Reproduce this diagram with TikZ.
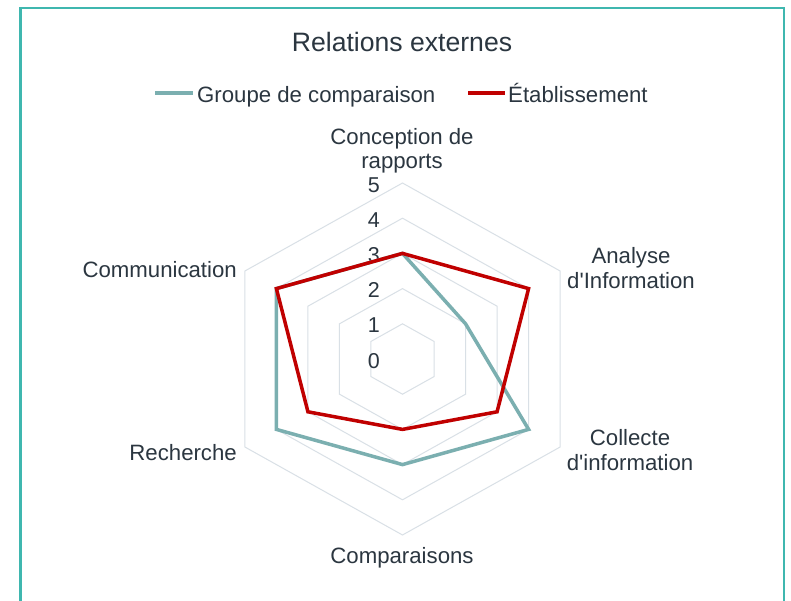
\documentclass[tikz,border=0pt]{standalone}
\usepackage{fontspec}
\setmainfont{Liberation Sans}
\definecolor{txtc}{HTML}{2B3640}
\definecolor{gridc}{HTML}{D9E0E6}
\definecolor{grpc}{HTML}{7BAFB0}
\definecolor{etabc}{HTML}{C00000}
\definecolor{framec}{HTML}{3FB7AF}
\begin{document}
\begin{tikzpicture}[x=1pt,y=-1pt,
  gridline/.style={draw=gridc,line width=1},
  grpline/.style={draw=grpc,line width=3.5},
  etabline/.style={draw=etabc,line width=3.5},
  ticklabel/.style={text=txtc,inner sep=0,font=\fontsize{21.5}{24}\selectfont,anchor=base east},
  axislabel/.style={text=txtc,inner sep=0,align=center,font=\fontsize{22.2}{24.5}\selectfont,anchor=base},
  legendtext/.style={text=txtc,inner sep=0,font=\fontsize{22.2}{24}\selectfont,anchor=base west},
  titletext/.style={text=txtc,inner sep=0,font=\fontsize{26.6}{30}\selectfont,anchor=base}]
\useasboundingbox (0,0) rectangle (791,601);
\fill[white] (0,0) rectangle (791,601);
% frame
\coordinate (fbl) at (20.5,605);
\coordinate (ftl) at (20.5,8);
\coordinate (ftr) at (783.8,8);
\coordinate (fbr) at (783.8,605);
\draw[framec,line width=2.6] (fbl) -- (ftl) -- (ftr) -- (fbr);
% title
\node[titletext] (title) at (402,52) {Relations externes};
% legend
\coordinate (lg1a) at (155,93);
\coordinate (lg1b) at (193,93);
\coordinate (lg2a) at (468,93);
\coordinate (lg2b) at (505,93);
\draw[grpline] (lg1a) -- (lg1b);
\draw[etabline] (lg2a) -- (lg2b);
\node[legendtext] (lgt1) at (197,103) {Groupe de comparaison};
\node[legendtext] (lgt2) at (508,103) {Établissement};
% grid coordinates
\foreach \i/\a in {0/90,1/30,2/-30,3/-90,4/-150,5/150}{
  \foreach \k in {0,...,5}{
    \coordinate (g\k-\i) at ({402.5+36.4*\k*cos(\a)},{359-35.2*\k*sin(\a)});
  }
}
\foreach \k in {1,...,5}{
  \draw[gridline] (g\k-0) -- (g\k-1) -- (g\k-2) -- (g\k-3) -- (g\k-4) -- (g\k-5) -- cycle;
}
% tick labels
\foreach \k in {0,...,5}{
  \node[ticklabel] (tick\k) at (380,{368-35.1*\k}) {\k};
}
% data
\foreach \i/\a/\v in {0/90/3,1/30/2,2/-30/4,3/-90/3,4/-150/4,5/150/4}{
  \coordinate (t\i) at ({402.5+36.4*\v*cos(\a)},{359-35.2*\v*sin(\a)});
}
\foreach \i/\a/\v in {0/90/3,1/30/4,2/-30/3,3/-90/2,4/-150/3,5/150/4}{
  \coordinate (r\i) at ({402.5+36.4*\v*cos(\a)},{359-35.2*\v*sin(\a)});
}
\draw[grpline] (t0) -- (t1) -- (t2) -- (t3) -- (t4) -- (t5) -- cycle;
\draw[etabline] (r0) -- (r1) -- (r2) -- (r3) -- (r4) -- (r5) -- cycle;
% axis labels (base = baseline of last line)
\node[axislabel] (ax0) at (402,169) {Conception de\\rapports};
\node[axislabel] (ax1) at (631,288) {Analyse\\d\textquotesingle Information};
\node[axislabel] (ax2) at (630,470) {Collecte\\d\textquotesingle information};
\node[axislabel] (ax3) at (402,563) {Comparaisons};
\node[axislabel,anchor=base east] (ax4) at (237,460) {Recherche};
\node[axislabel,anchor=base east] (ax5) at (237,277) {Communication};
\end{tikzpicture}
\end{document}
